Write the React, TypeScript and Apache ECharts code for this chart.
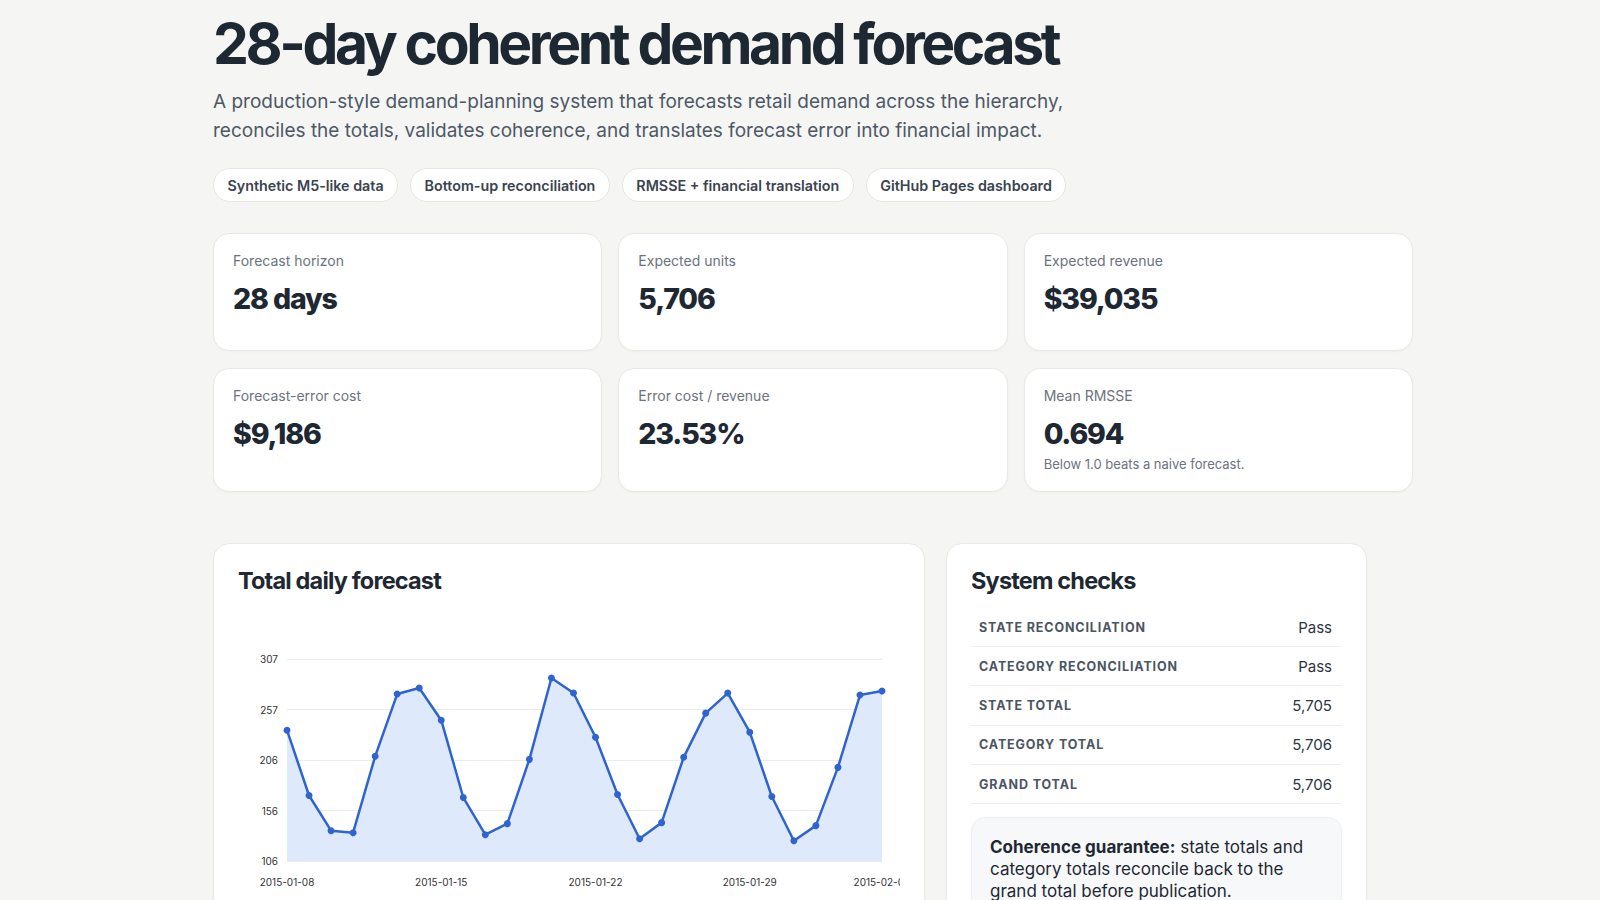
import { useEffect, useRef } from 'react';
import * as echarts from 'echarts';

// forecast horizon (28 days)
const dates = [
  '2015-01-08', '2015-01-09', '2015-01-10', '2015-01-11', '2015-01-12', '2015-01-13', '2015-01-14',
  '2015-01-15', '2015-01-16', '2015-01-17', '2015-01-18', '2015-01-19', '2015-01-20', '2015-01-21',
  '2015-01-22', '2015-01-23', '2015-01-24', '2015-01-25', '2015-01-26', '2015-01-27', '2015-01-28',
  '2015-01-29', '2015-01-30', '2015-01-31', '2015-02-01', '2015-02-02', '2015-02-03', '2015-02-04',
];
const totalForecast = [
  236, 171, 136, 134, 210, 272, 278, 246, 169, 132, 143, 207, 288, 273,
  229, 172, 128, 144, 209, 253, 273, 234, 170, 126, 141, 199, 271, 275,
];
const yTickLabels = ['106', '156', '206', '257', '307'];
const yMin = 105.8;
const yMax = 306.9;

const pills = ['Synthetic M5-like data', 'Bottom-up reconciliation', 'RMSSE + financial translation', 'GitHub Pages dashboard'];

const kpis = [
  { label: 'Forecast horizon', value: '28 days' },
  { label: 'Expected units', value: '5,706' },
  { label: 'Expected revenue', value: '$39,035' },
  { label: 'Forecast-error cost', value: '$9,186' },
  { label: 'Error cost / revenue', value: '23.53%' },
  { label: 'Mean RMSSE', value: '0.694', note: 'Below 1.0 beats a naive forecast.' },
];

const checks = [
  { label: 'State reconciliation', value: 'Pass' },
  { label: 'Category reconciliation', value: 'Pass' },
  { label: 'State total', value: '5,705' },
  { label: 'Category total', value: '5,706' },
  { label: 'Grand total', value: '5,706' },
];

const FONT = 'Inter, "Noto Sans", "Liberation Sans", sans-serif';
const INK = '#1e2833';
const BLUE = '#2f64cf';

function ForecastChart() {
  const ref = useRef<HTMLDivElement>(null);

  useEffect(() => {
    if (!ref.current) return;
    const chart = echarts.init(ref.current, undefined, { renderer: 'svg' });
    chart.setOption({
      animation: false,
      textStyle: { fontFamily: FONT },
      grid: { left: 49, right: 18, top: 51, bottom: 47, outerBoundsMode: 'none', containLabel: false },
      xAxis: {
        type: 'category',
        data: dates,
        boundaryGap: false,
        axisLine: { show: false },
        axisTick: { show: false },
        axisLabel: {
          interval: (i: number) => i % 7 === 0 || i === dates.length - 1,
          color: '#333',
          fontSize: 10,
          margin: 16,
          hideOverlap: false,
        },
      },
      yAxis: [
        {
          // label / gridline axis: one step per tick label
          type: 'value',
          min: 0,
          max: yTickLabels.length - 1,
          interval: 1,
          axisLine: { show: false },
          axisTick: { show: false },
          axisLabel: { color: '#333', fontSize: 10, margin: 9, formatter: (v: number) => yTickLabels[v] },
          splitLine: { lineStyle: { color: '#ebebeb', width: 1 } },
        },
        { type: 'value', min: yMin, max: yMax, show: false },
      ],
      series: [
        {
          type: 'line',
          yAxisIndex: 1,
          data: totalForecast,
          symbol: 'circle',
          symbolSize: 7,
          lineStyle: { color: BLUE, width: 2.5 },
          itemStyle: { color: BLUE },
          areaStyle: { color: '#deeafb', opacity: 1, origin: 'start' },
        },
      ],
    });
    return () => chart.dispose();
  }, []);

  return <div ref={ref} style={{ width: 662, height: 300, marginTop: 13 }} />;
}

const card: React.CSSProperties = {
  background: '#ffffff',
  border: '1px solid #eae8e3',
  borderRadius: 16,
  boxSizing: 'border-box',
  boxShadow: '0 1px 2px rgba(16,24,40,0.03)',
};

const cardTitle: React.CSSProperties = {
  margin: 0,
  fontSize: 23.5,
  lineHeight: 1.2,
  fontWeight: 700,
  letterSpacing: '-0.035em',
};

export default function App() {
  return (
    <div style={{ width: 1600, minHeight: 900, background: '#f5f5f3', fontFamily: FONT, color: INK, overflow: 'hidden' }}>
      <style>{'body{margin:0;background:#f5f5f3;}'}</style>
      <div style={{ marginLeft: 213, width: 1200, paddingTop: 12 }}>
        <h1 style={{ margin: 0, fontSize: 57, lineHeight: '64px', fontWeight: 700, letterSpacing: '-0.06em', color: INK }}>
          28-day coherent demand forecast
        </h1>
        <p style={{ margin: '11px 0 0', fontSize: 19, lineHeight: '29px', color: '#4d5866' }}>
          A production-style demand-planning system that forecasts retail demand across the hierarchy,
          <br />
          reconciles the totals, validates coherence, and translates forecast error into financial impact.
        </p>

        <div style={{ display: 'flex', gap: 12, marginTop: 23 }}>
          {pills.map((p) => (
            <span
              key={p}
              style={{
                height: 34,
                boxSizing: 'border-box',
                display: 'inline-flex',
                alignItems: 'center',
                padding: '0 13.5px',
                background: '#fff',
                border: '1px solid #e8e6e1',
                borderRadius: 999,
                fontSize: 14.3,
                fontWeight: 600,
                color: '#3a4350',
              }}
            >
              {p}
            </span>
          ))}
        </div>

        <div
          style={{
            display: 'grid',
            gridTemplateColumns: 'repeat(3, 1fr)',
            columnGap: 16,
            rowGap: 17,
            marginTop: 31,
          }}
        >
          {kpis.map((k) => (
            <div key={k.label} style={{ ...card, minHeight: 118, padding: '17px 19px 18px' }}>
              <div style={{ fontSize: 14, lineHeight: '20px', color: '#6b7280' }}>{k.label}</div>
              <div style={{ fontSize: 28.5, lineHeight: 1.2, fontWeight: 800, letterSpacing: '-0.04em', marginTop: 11, color: INK }}>
                {k.value}
              </div>
              {k.note && <div style={{ fontSize: 13, lineHeight: '18px', marginTop: 4, color: '#6b7280' }}>{k.note}</div>}
            </div>
          ))}
        </div>

        <div style={{ display: 'flex', gap: 21, marginTop: 51, alignItems: 'flex-start' }}>
          <div style={{ ...card, width: 712, padding: '22.5px 24px 24px' }}>
            <h2 style={cardTitle}>Total daily forecast</h2>
            <ForecastChart />
          </div>

          <div style={{ ...card, width: 421, padding: '22.5px 24px 24px' }}>
            <h2 style={cardTitle}>System checks</h2>
            <div style={{ marginTop: 13 }}>
              {checks.map((c) => (
                <div
                  key={c.label}
                  style={{
                    height: 39.3,
                    boxSizing: 'border-box',
                    display: 'flex',
                    alignItems: 'center',
                    justifyContent: 'space-between',
                    padding: '0 10px 0 8px',
                    borderBottom: '1px solid #eceef1',
                  }}
                >
                  <span style={{ fontSize: 12.5, fontWeight: 700, letterSpacing: '0.07em', textTransform: 'uppercase', color: '#4b5563' }}>
                    {c.label}
                  </span>
                  <span style={{ fontSize: 15, color: '#2d3642' }}>{c.value}</span>
                </div>
              ))}
            </div>
            <div
              style={{
                marginTop: 13,
                padding: '17.5px 18px',
                background: '#f7f8fa',
                border: '1px solid #eceef2',
                borderRadius: 14,
                fontSize: 17,
                lineHeight: '22px',
                color: INK,
              }}
            >
              <b>Coherence guarantee:</b> state totals and category totals reconcile back to the grand total before publication.
            </div>
          </div>
        </div>
      </div>
    </div>
  );
}
